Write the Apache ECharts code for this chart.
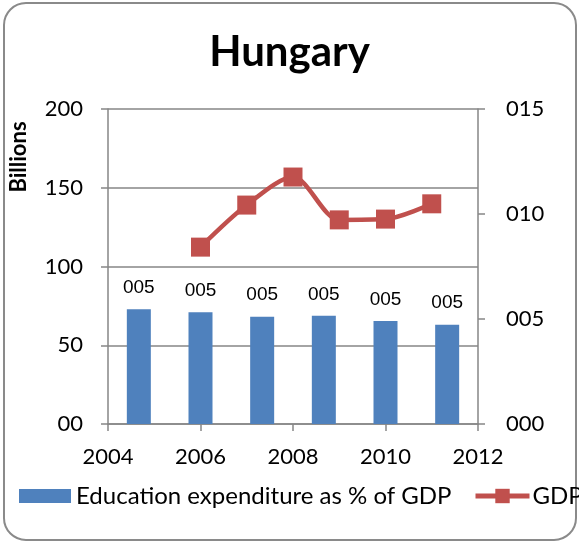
<!DOCTYPE html>
<html>
<head>
<meta charset="utf-8">
<script src="https://cdn.jsdelivr.net/npm/echarts@6/dist/echarts.min.js"></script>
<style>
  html, body { margin: 0; padding: 0; background: #fff; }
  #chart { width: 579px; height: 542px; }
</style>
</head>
<body>
<div id="chart"></div>
<script>
// bar categories (one slot per bar) and GDP years
const barSlots = ['2005', '2006', '2007', '2008', '2009', '2010'];
const eduPct = [5.47, 5.32, 5.11, 5.15, 4.91, 4.73];
const gdpYears = [2006, 2007, 2008, 2009, 2010, 2011];
const gdpBillions = [112.3, 139.0, 156.8, 129.6, 130.1, 139.8];

const FONT = 'Lato';
const AXIS_GRAY = '#868686';
const pad3 = v => String(Math.round(v)).padStart(3, '0');

const chart = echarts.init(document.getElementById('chart'));

const option = {
    backgroundColor: '#fff',
    animation: false,
    textStyle: { fontFamily: FONT, color: '#000' },
    title: {
        text: 'Hungary',
        left: 'center',
        top: 26,
        textStyle: { fontFamily: FONT, fontSize: 42, fontWeight: 'bold', color: '#000' }
    },
    graphic: [
        {
            type: 'rect',
            shape: { x: 4, y: 3, width: 572, height: 537, r: 22 },
            style: { fill: 'none', stroke: '#8a8a8a', lineWidth: 2 },
            silent: true
        },
        {
            type: 'text',
            x: 19,
            y: 157,
            rotation: Math.PI / 2,
            style: {
                text: 'Billions',
                fontFamily: FONT,
                fontSize: 22,
                fontWeight: 'bold',
                fill: '#000',
                align: 'center',
                verticalAlign: 'middle'
            },
            silent: true
        }
    ],
    legend: [
        {
            left: 19,
            top: 484,
            padding: 0,
            itemWidth: 52,
            itemHeight: 14,
            textStyle: { fontFamily: FONT, fontSize: 24, color: '#000' },
            data: [{ name: 'Education expenditure as % of GDP', icon: 'rect' }]
        },
        {
            left: 473,
            top: 484,
            padding: 0,
            itemWidth: 54,
            itemHeight: 18,
            textStyle: { fontFamily: FONT, fontSize: 24, color: '#000', padding: [0, 0, 0, -2] },
            lineStyle: { width: 5 },
            data: ['GDP']
        }
    ],
    grid: { left: 108, right: 101, top: 109, bottom: 118 },
    xAxis: [
        {
            type: 'category',
            data: barSlots,
            show: false
        },
        {
            type: 'value',
            min: 2004,
            max: 2012,
            interval: 2,
            position: 'bottom',
            axisLine: { show: true, lineStyle: { color: AXIS_GRAY, width: 1.5 } },
            axisTick: { show: true, length: 7, lineStyle: { color: AXIS_GRAY, width: 1.5 } },
            axisLabel: {
                fontFamily: FONT, fontSize: 22, color: '#000', margin: 22,
                formatter: v => String(v)
            },
            splitLine: { show: false }
        }
    ],
    yAxis: [
        {
            type: 'value',
            min: 0,
            max: 200,
            interval: 50,
            axisLine: { show: true, lineStyle: { color: AXIS_GRAY, width: 1.5 } },
            axisTick: { show: true, length: 7, lineStyle: { color: AXIS_GRAY, width: 1.5 } },
            axisLabel: {
                fontFamily: FONT, fontSize: 22, color: '#000', margin: 25,
                formatter: v => (v === 0 ? '00' : String(v))
            },
            splitLine: { show: true, lineStyle: { color: AXIS_GRAY, width: 1.5 } }
        },
        {
            type: 'value',
            min: 0,
            max: 15,
            interval: 5,
            position: 'right',
            axisLine: { show: true, lineStyle: { color: AXIS_GRAY, width: 1.5 } },
            axisTick: { show: true, length: 7, lineStyle: { color: AXIS_GRAY, width: 1.5 } },
            axisLabel: {
                fontFamily: FONT, fontSize: 22, color: '#000', margin: 28,
                formatter: v => pad3(v)
            },
            splitLine: { show: false }
        }
    ],
    series: [
        {
            name: 'Education expenditure as % of GDP',
            type: 'bar',
            xAxisIndex: 0,
            yAxisIndex: 1,
            data: eduPct,
            barWidth: 24,
            itemStyle: { color: '#4F81BD' },
            label: {
                show: true,
                position: 'top',
                distance: 12,
                fontFamily: 'Liberation Sans',
                fontSize: 19,
                color: '#000',
                formatter: p => pad3(p.value)
            }
        },
        {
            name: 'GDP',
            type: 'line',
            xAxisIndex: 1,
            yAxisIndex: 0,
            data: gdpYears.map((y, i) => [y, gdpBillions[i]]),
            smooth: 0.3,
            symbol: 'rect',
            symbolSize: 19,
            lineStyle: { color: '#C0504D', width: 4.5 },
            itemStyle: { color: '#C0504D' }
        }
    ]
};

chart.setOption(option);
</script>
</body>
</html>
